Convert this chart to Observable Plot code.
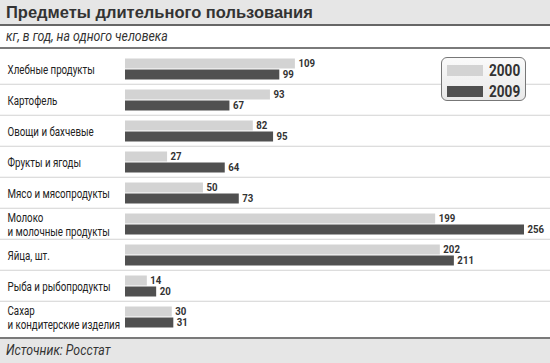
<!DOCTYPE html>
<html>
<head>
<meta charset="utf-8">
<script src="https://cdn.jsdelivr.net/npm/d3@7"></script>
<script src="https://cdn.jsdelivr.net/npm/@observablehq/plot@0.6"></script>
<style>
  html, body { margin: 0; padding: 0; background: #fff; }
  #wrap { position: relative; width: 550px; height: 363px; overflow: hidden; font-family: Roboto, "Liberation Sans", sans-serif; }
  #title { height: 24px; background: #e6e6e6; border-bottom: 2px solid #666; box-sizing: content-box;
           font-family: "Liberation Sans", Arial, sans-serif; font-weight: bold; font-size: 16.5px; color: #333;
           line-height: 25px; padding-left: 6px; }
  #subtitle { height: 21px; border-bottom: 2px solid #7a7a7a; font-style: italic; font-size: 14.5px; color: #333;
              line-height: 21px; padding-left: 6px; }
  #footer { height: 24px; background: #e6e6e6; border-top: 2px solid #7a7a7a; font-style: italic; font-size: 14.5px;
            color: #333; line-height: 24px; padding-left: 6px; }
  .narrow { display: inline-block; transform: scaleX(0.85); transform-origin: 0 50%; white-space: nowrap; }
  #chart svg { display: block; }
  #legend { position: absolute; left: 441px; top: 57px; width: 83px; height: 42px; border: 1.5px solid #777;
            border-radius: 6px; background: linear-gradient(#fafafa, #e9e9e9); }
  .li { position: absolute; left: 5px; height: 11px; display: flex; align-items: center; }
  .sw { width: 36px; height: 11px; }
  .lt { margin-left: 6px; font-weight: bold; font-size: 16px; color: #333; white-space: nowrap;
        display: inline-block; transform: scaleX(0.85); transform-origin: 0 50%; font-family: Roboto, sans-serif; }
</style>
</head>
<body>
<div id="wrap">
  <div id="title"></div>
  <div id="subtitle"><span class="narrow" id="subtitleText"></span></div>
  <div id="chart"></div>
  <div id="footer"><span class="narrow" id="footerText"></span></div>
  <div id="legend"></div>
</div>
<script>
const titleText = "Предметы длительного пользования";
const subtitleText = "кг, в год, на одного человека";
const sourceText = "Источник: Росстат";

const categories = [
  "Хлебные продукты",
  "Картофель",
  "Овощи и бахчевые",
  "Фрукты и ягоды",
  "Мясо и мясопродукты",
  "Молоко\nи молочные продукты",
  "Яйца, шт.",
  "Рыба и рыбопродукты",
  "Сахар\nи кондитерские изделия"
];
const years = ["2000", "2009"];
const values2000 = [109, 93, 82, 27, 50, 199, 202, 14, 30];
const values2009 = [99, 67, 95, 64, 73, 256, 211, 20, 31];
const colors = ["#d3d3d3", "#505050"];

document.getElementById("title").textContent = titleText;
document.getElementById("subtitleText").textContent = subtitleText;
document.getElementById("footerText").textContent = sourceText;

const rows = [];
categories.forEach((c, i) => {
  rows.push({category: c, year: years[0], value: values2000[i]});
  rows.push({category: c, year: years[1], value: values2009[i]});
});

const H = 288, mT = 1.5, mB = 1.5;
const facetH = (H - mT - mB) / categories.length;

const chart = Plot.plot({
  width: 550,
  height: H,
  marginLeft: 0,
  marginRight: 0,
  marginTop: mT,
  marginBottom: mB,
  style: {fontFamily: "Roboto, 'Liberation Sans', sans-serif", fontSize: "12px", color: "#222", background: "transparent"},
  x: {domain: [0, 256], range: [125, 524], axis: null},
  y: {domain: years, axis: null, paddingInner: 0.09, paddingOuter: 0.42, align: 0.42},
  fy: {domain: categories, axis: null, padding: 0},
  color: {domain: years, range: colors},
  marks: [
    Plot.rect(categories.slice(0, -1), {fy: d => d, fill: "#dddddd", insetTop: facetH - 2}),
    Plot.barX(rows, {fy: "category", y: "year", x: "value", fill: "year"}),
    Plot.text(rows, {fy: "category", y: "year", x: "value", text: d => String(d.value), dx: 3, dy: -0.5,
                     textAnchor: "start", fontWeight: "bold", fontSize: 11.5, fill: "#333"}),
    Plot.text(categories, {fy: d => d, text: d => d, frameAnchor: "left", dx: 7, textAnchor: "start",
                           lineHeight: 1.12, fontSize: 12.5, fill: "#222"})
  ]
});
document.getElementById("chart").appendChild(chart);

// condense text horizontally (narrow typeface look)
d3.select(chart).selectAll("text").each(function () {
  const t = d3.select(this);
  const bold = +getComputedStyle(this).fontWeight >= 600;
  const s = bold ? 0.84 : 0.78;
  const tr = t.attr("transform");
  if (tr) {
    t.attr("transform", tr + ` scale(${s},1)`);
  } else {
    const x = +t.attr("x") || 0, y = +t.attr("y") || 0;
    t.attr("x", null).attr("y", null)
     .attr("transform", `translate(${x},${y}) scale(${s},1)`);
  }
});

const legend = document.getElementById("legend");
years.forEach((y, i) => {
  const item = document.createElement("div");
  item.className = "li";
  item.style.top = (i === 0 ? 7 : 28) + "px";
  const sw = document.createElement("div");
  sw.className = "sw";
  sw.style.background = colors[i];
  const t = document.createElement("span");
  t.className = "lt";
  t.textContent = y;
  item.appendChild(sw);
  item.appendChild(t);
  legend.appendChild(item);
});
</script>
</body>
</html>
